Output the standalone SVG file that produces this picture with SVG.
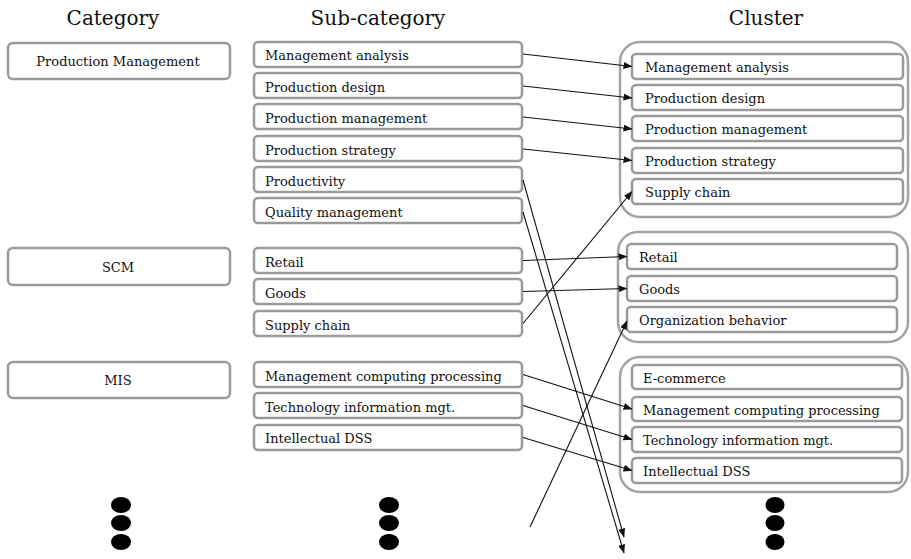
<svg xmlns="http://www.w3.org/2000/svg" width="911" height="559" viewBox="0 0 911 559">
<style>
.bg{fill:#ffffff}
.box{fill:#ffffff;stroke:#9a9a9a;stroke-width:2.5}
.grp{fill:#ffffff;stroke:#a3a3a3;stroke-width:2.5}
.hdr{font-family:"DejaVu Serif","Liberation Serif",serif;font-size:20px;fill:#111;text-anchor:middle}
.t{font-family:"DejaVu Serif","Liberation Serif",serif;font-size:13px;fill:#111}
.c{text-anchor:middle}
.ln{stroke:#111;stroke-width:1.1;fill:none;marker-end:url(#ah)}
.dot{fill:#000}
</style>
<defs>
<marker id="ah" markerWidth="9" markerHeight="7" refX="8.5" refY="3.5" orient="auto" markerUnits="userSpaceOnUse">
<path d="M0,0 L9,3.5 L0,7 Z" fill="#111"/>
</marker>
</defs>
<rect class="bg" x="0" y="0" width="911" height="559"/>

<g id="headers">
<text class="hdr" x="113" y="25">Category</text>
<text class="hdr" x="378" y="25">Sub-category</text>
<text class="hdr" x="766" y="25">Cluster</text>
</g>

<g id="cat-production-management"><rect class="box" x="8" y="43" width="222" height="36" rx="5"/><text class="t c" x="118" y="66">Production Management</text></g>
<g id="cat-scm"><rect class="box" x="8" y="248" width="222" height="37" rx="5"/><text class="t c" x="118" y="272">SCM</text></g>
<g id="cat-mis"><rect class="box" x="8" y="362" width="222" height="36" rx="5"/><text class="t c" x="118" y="385">MIS</text></g>

<g id="sub-management-analysis"><rect class="box" x="254" y="42" width="268" height="25" rx="4"/><text class="t" x="265" y="60">Management analysis</text></g>
<g id="sub-production-design"><rect class="box" x="254" y="73" width="268" height="25" rx="4"/><text class="t" x="265" y="91.5">Production design</text></g>
<g id="sub-production-management"><rect class="box" x="254" y="104" width="268" height="25" rx="4"/><text class="t" x="265" y="122.5">Production management</text></g>
<g id="sub-production-strategy"><rect class="box" x="254" y="136" width="268" height="25" rx="4"/><text class="t" x="265" y="154.5">Production strategy</text></g>
<g id="sub-productivity"><rect class="box" x="254" y="167" width="268" height="25" rx="4"/><text class="t" x="265" y="185.5">Productivity</text></g>
<g id="sub-quality-management"><rect class="box" x="254" y="198" width="268" height="25" rx="4"/><text class="t" x="265" y="216.5">Quality management</text></g>
<g id="sub-retail"><rect class="box" x="254" y="248" width="268" height="25" rx="4"/><text class="t" x="265" y="266.5">Retail</text></g>
<g id="sub-goods"><rect class="box" x="254" y="279" width="268" height="25" rx="4"/><text class="t" x="265" y="297.5">Goods</text></g>
<g id="sub-supply-chain"><rect class="box" x="254" y="311" width="268" height="25" rx="4"/><text class="t" x="265" y="329.5">Supply chain</text></g>
<g id="sub-management-computing-processing"><rect class="box" x="254" y="362" width="268" height="25" rx="4"/><text class="t" x="265" y="380.5">Management computing processing</text></g>
<g id="sub-technology-information-mgt"><rect class="box" x="254" y="393" width="268" height="25" rx="4"/><text class="t" x="265" y="411.5">Technology information mgt.</text></g>
<g id="sub-intellectual-dss"><rect class="box" x="254" y="425" width="268" height="25" rx="4"/><text class="t" x="265" y="443">Intellectual DSS</text></g>

<g id="cluster-1">
<rect class="grp" x="620" y="42" width="288" height="175" rx="20"/>
<g id="cl1-management-analysis"><rect class="box" x="632" y="54" width="271" height="25" rx="4"/><text class="t" x="645" y="72">Management analysis</text></g>
<g id="cl1-production-design"><rect class="box" x="632" y="85" width="271" height="25" rx="4"/><text class="t" x="645" y="103">Production design</text></g>
<g id="cl1-production-management"><rect class="box" x="632" y="116" width="271" height="25" rx="4"/><text class="t" x="645" y="134">Production management</text></g>
<g id="cl1-production-strategy"><rect class="box" x="632" y="148" width="271" height="25" rx="4"/><text class="t" x="645" y="166">Production strategy</text></g>
<g id="cl1-supply-chain"><rect class="box" x="632" y="179" width="271" height="25" rx="4"/><text class="t" x="645" y="197">Supply chain</text></g>
</g>

<g id="cluster-2">
<rect class="grp" x="618" y="232" width="290" height="110" rx="20"/>
<g id="cl2-retail"><rect class="box" x="627" y="244" width="270" height="25" rx="4"/><text class="t" x="639" y="262">Retail</text></g>
<g id="cl2-goods"><rect class="box" x="627" y="276" width="270" height="25" rx="4"/><text class="t" x="639" y="294">Goods</text></g>
<g id="cl2-organization-behavior"><rect class="box" x="627" y="307" width="270" height="25" rx="4"/><text class="t" x="639" y="325">Organization behavior</text></g>
</g>

<g id="cluster-3">
<rect class="grp" x="620" y="357" width="288" height="135" rx="20"/>
<g id="cl3-e-commerce"><rect class="box" x="632" y="365" width="270" height="24" rx="4"/><text class="t" x="643" y="382.5">E-commerce</text></g>
<g id="cl3-management-computing-processing"><rect class="box" x="632" y="397" width="270" height="24" rx="4"/><text class="t" x="643" y="414.5">Management computing processing</text></g>
<g id="cl3-technology-information-mgt"><rect class="box" x="632" y="427" width="270" height="25" rx="4"/><text class="t" x="643" y="445">Technology information mgt.</text></g>
<g id="cl3-intellectual-dss"><rect class="box" x="632" y="458" width="270" height="25" rx="4"/><text class="t" x="643" y="476">Intellectual DSS</text></g>
</g>

<g id="connectors">
<line class="ln" x1="523" y1="54" x2="632" y2="66.5"/>
<line class="ln" x1="523" y1="86" x2="632" y2="98"/>
<line class="ln" x1="523" y1="117" x2="632" y2="129"/>
<line class="ln" x1="523" y1="149" x2="632" y2="160.5"/>
<line class="ln" x1="523" y1="180" x2="624" y2="537"/>
<line class="ln" x1="523" y1="212" x2="624" y2="553"/>
<line class="ln" x1="523" y1="260.5" x2="627" y2="256.5"/>
<line class="ln" x1="523" y1="291.5" x2="627" y2="288.5"/>
<line class="ln" x1="523" y1="323.5" x2="632" y2="191.5"/>
<line class="ln" x1="530" y1="527" x2="627" y2="321"/>
<line class="ln" x1="523" y1="374.5" x2="632" y2="409"/>
<line class="ln" x1="523" y1="405.5" x2="632" y2="439.5"/>
<line class="ln" x1="523" y1="437.5" x2="632" y2="470.5"/>
</g>

<g id="ellipsis-category"><ellipse class="dot" cx="121" cy="505" rx="10" ry="8"/><ellipse class="dot" cx="121" cy="523" rx="10" ry="8"/><ellipse class="dot" cx="121" cy="542" rx="10" ry="8"/></g>
<g id="ellipsis-subcategory"><ellipse class="dot" cx="389" cy="505" rx="10" ry="8"/><ellipse class="dot" cx="389" cy="523" rx="10" ry="8"/><ellipse class="dot" cx="389" cy="542" rx="10" ry="8"/></g>
<g id="ellipsis-cluster"><ellipse class="dot" cx="775" cy="505" rx="9.5" ry="8"/><ellipse class="dot" cx="775" cy="523" rx="9.5" ry="8"/><ellipse class="dot" cx="775" cy="542" rx="9.5" ry="8"/></g>
</svg>
